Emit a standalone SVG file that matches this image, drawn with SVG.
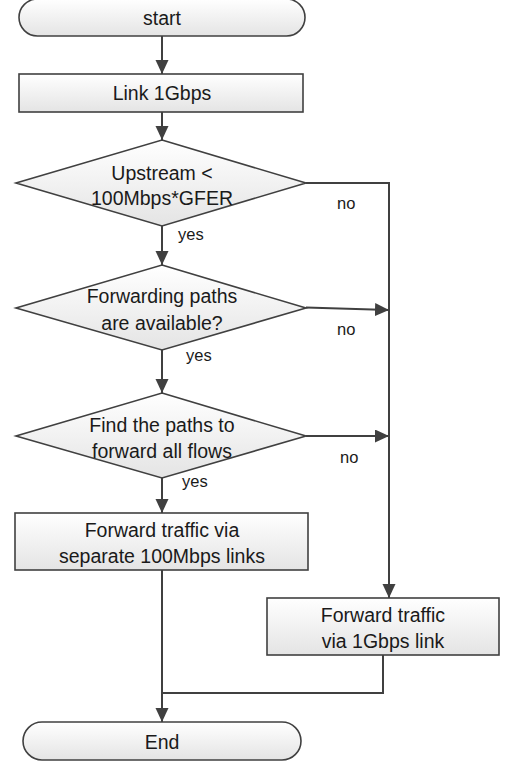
<svg xmlns="http://www.w3.org/2000/svg" width="506" height="763" viewBox="0 0 506 763">
  <defs>
    <linearGradient id="shade" x1="0" y1="0" x2="0" y2="1">
      <stop offset="0" stop-color="#ffffff"/>
      <stop offset="1" stop-color="#e4e4e4"/>
    </linearGradient>
    <marker id="arrow" markerUnits="userSpaceOnUse" markerWidth="14" markerHeight="14" refX="14" refY="6.5" orient="auto">
      <path d="M0,0 L14,6.5 L0,13 z" fill="#404040"/>
    </marker>
  </defs>
  <style>
    .shape { fill: url(#shade); stroke: #404040; stroke-width: 1.6; }
    .label { font-family: "Liberation Sans", Arial, sans-serif; font-size: 19.5px; fill: #1a1a1a; text-anchor: middle; }
    .edge-label { font-family: "Liberation Sans", Arial, sans-serif; font-size: 16.5px; fill: #1a1a1a; }
    .wire { fill: none; stroke: #404040; stroke-width: 2; }
  </style>

  <!-- connectors -->
  <g id="connectors">
    <path class="wire" d="M162,36 L162,74" marker-end="url(#arrow)"/>
    <path class="wire" d="M162,112 L162,140" marker-end="url(#arrow)"/>
    <path class="wire" d="M162,226 L162,265" marker-end="url(#arrow)"/>
    <path class="wire" d="M306,183 L389,183 L389,598" marker-end="url(#arrow)"/>
    <path class="wire" d="M306,307.5 L389,310" marker-end="url(#arrow)"/>
    <path class="wire" d="M162,350 L162,393" marker-end="url(#arrow)"/>
    <path class="wire" d="M306,436 L389,436" marker-end="url(#arrow)"/>
    <path class="wire" d="M162,478 L162,513" marker-end="url(#arrow)"/>
    <path class="wire" d="M162,570 L162,722" marker-end="url(#arrow)"/>
    <path class="wire" d="M383,655 L383,693 L162,693"/>
    <text class="edge-label" x="178" y="240">yes</text>
    <text class="edge-label" x="337" y="209">no</text>
    <text class="edge-label" x="186" y="361">yes</text>
    <text class="edge-label" x="337" y="335">no</text>
    <text class="edge-label" x="182" y="487">yes</text>
    <text class="edge-label" x="340" y="463">no</text>
  </g>

  <g id="start">
    <rect class="shape" x="19" y="-1" width="286" height="37" rx="18.5"/>
    <text class="label" x="162" y="25">start</text>
  </g>

  <g id="link-1gbps">
    <rect class="shape" x="19" y="74" width="284" height="38"/>
    <text class="label" x="162" y="100">Link 1Gbps</text>
  </g>

  <g id="upstream-check">
    <polygon class="shape" points="162,140 306,183 162,226 16,183"/>
    <text class="label" x="162" y="180">Upstream &lt;</text>
    <text class="label" x="162" y="205">100Mbps*GFER</text>
  </g>

  <g id="paths-available">
    <polygon class="shape" points="162,265 306,308 162,350 16,308"/>
    <text class="label" x="162" y="303">Forwarding paths</text>
    <text class="label" x="162" y="330">are available?</text>
  </g>

  <g id="find-paths">
    <polygon class="shape" points="162,393 306,436 162,478 16,436"/>
    <text class="label" x="162" y="432">Find the paths to</text>
    <text class="label" x="162" y="458">forward all flows</text>
  </g>

  <g id="forward-100mbps">
    <rect class="shape" x="15" y="513" width="293" height="57"/>
    <text class="label" x="162" y="537">Forward traffic via</text>
    <text class="label" x="162" y="563">separate 100Mbps links</text>
  </g>

  <g id="forward-1gbps">
    <rect class="shape" x="267" y="598" width="232" height="57"/>
    <text class="label" x="383" y="622">Forward traffic</text>
    <text class="label" x="383" y="648">via 1Gbps link</text>
  </g>

  <g id="end">
    <rect class="shape" x="23" y="722" width="278" height="38" rx="19"/>
    <text class="label" x="162" y="749">End</text>
  </g>
</svg>
